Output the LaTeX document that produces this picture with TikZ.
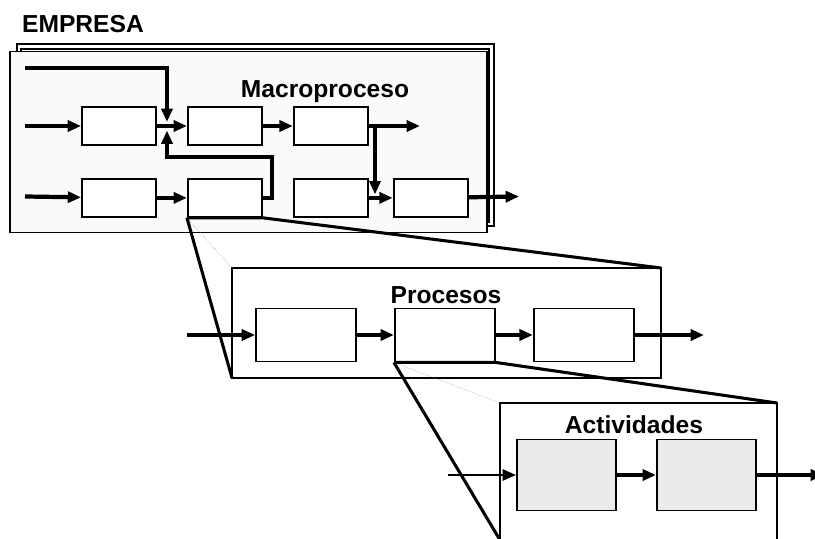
\documentclass[tikz,border=0pt]{standalone}
\usepackage{fontspec}
\setmainfont{Liberation Sans}
\usetikzlibrary{arrows.meta,positioning}

\begin{document}
\begin{tikzpicture}[
  x=0.3mm, y=-0.3mm,
  node distance=9mm,
  font=\bfseries\fontsize{21}{24}\selectfont,
  level/.style={rectangle, draw, line width=1.6pt, anchor=north west,
                inner sep=0pt, outer sep=0pt},
  stepbox/.style={rectangle, draw, line width=1.6pt, fill=white,
                  minimum width=22.2mm, minimum height=11.4mm, inner sep=0pt},
  procbox/.style={stepbox, minimum width=30mm, minimum height=15.9mm},
  actbox/.style={stepbox, fill=gray!16, minimum width=29.7mm, minimum height=21.3mm},
  flow/.style={-{Triangle[length=4mm, width=3.3mm]}, line width=3.6pt},
  zoomline/.style={line width=2.6pt},
  guide/.style={gray, thin, densely dotted},
]
  \useasboundingbox (0,0) rectangle (815,539);

  % empresa and macroproceso
  \node[level, double=white, double distance=2.2pt, line width=1.5pt,
        minimum width=141.75mm, minimum height=53.25mm] (empresa) at (19,46.5) {};
  \node[anchor=base west] (empresaLabel) at (18,32) {EMPRESA};
  \node[level, fill=gray!4, minimum width=143.1mm, minimum height=54.3mm] (macro) at (10,51.5) {};
  \node[anchor=base] (macroTitle) at (325,97) {Macroproceso};

  \node[stepbox] (ma1) at (119,126) {};
  \node[stepbox, right=of ma1] (ma2) {};
  \node[stepbox, right=of ma2] (ma3) {};
  \node[stepbox, below=9.6mm of ma1] (mb1) {};
  \node[stepbox, right=of mb1] (mb2) {};
  \node[stepbox, right=of mb2] (mb3) {};
  \node[stepbox, right=7.2mm of mb3] (mb4) {};

  % procesos
  \node[level, fill=white, minimum width=128.7mm, minimum height=33mm] (procesos) at (232,268) {};
  \node[anchor=base] (procTitle) at (446,303) {Procesos};
  \node[procbox] (pr1) at (306,335) {};
  \node[procbox, right=11.1mm of pr1] (pr2) {};
  \node[procbox, right=11.1mm of pr2] (pr3) {};

  % actividades
  \node[level, fill=white, minimum width=83.1mm, minimum height=41.1mm] (actividades) at (500,403) {};
  \node[anchor=base] (actTitle) at (634,433) {Actividades};
  \node[actbox] (ac1) at (566.5,475) {};
  \node[actbox, right=11.7mm of ac1] (ac2) {};

  % zoom lines
  \draw[guide] (mb2.south west) -- (procesos.north west);
  \draw[zoomline] (mb2.south west) -- (procesos.south west);
  \draw[zoomline] (mb2.south west) -- (mb2.south east) -- (procesos.north east);
  \draw[guide] (pr2.south west) -- (actividades.north west);
  \draw[zoomline] (pr2.south west) -- (actividades.south west);
  \draw[zoomline] (pr2.south west) -- (pr2.south east) -- (actividades.north east);

  % free ends
  \coordinate (inTop) at (25,68);
  \coordinate (inA) at (25,126);
  \coordinate (inB) at (25,196.5);
  \coordinate (mergeTop) at (167,122);
  \coordinate (mergeBot) at (167,130.5);
  \coordinate (loop) at (272,157);
  \coordinate (split) at (375,126);
  \coordinate (outA) at (420,126);
  \coordinate (outB) at (519,196.5);
  \coordinate (inP) at (187,335);
  \coordinate (outP) at (704,335);
  \coordinate (inC) at (448,475);
  \coordinate (outC) at (824,475);

  \draw[flow] (inA) -- (ma1);
  \draw[flow] (ma1) -- (ma2);
  \draw[flow] (ma2) -- (ma3);
  \draw[flow] (ma3) -- (outA);
  \draw[flow] (inTop) -| (mergeTop);
  \draw[flow] (mb2.east) -| (loop) -| (mergeBot);
  \draw[flow] (split) -- ([yshift=3pt]split |- mb4.west);
  \draw[flow] (inB) -- (mb1);
  \draw[flow] (mb1) -- (mb2);
  \draw[flow] (mb3) -- (mb4);
  \draw[flow] (mb4) -- (outB);

  \draw[flow] (inP) -- (pr1);
  \draw[flow] (pr1) -- (pr2);
  \draw[flow] (pr2) -- (pr3);
  \draw[flow] (pr3) -- (outP);

  \draw[flow, line width=2.2pt] (inC) -- (ac1);
  \draw[flow] (ac1) -- (ac2);
  \draw[flow] (ac2) -- (outC);

\end{tikzpicture}
\end{document}
